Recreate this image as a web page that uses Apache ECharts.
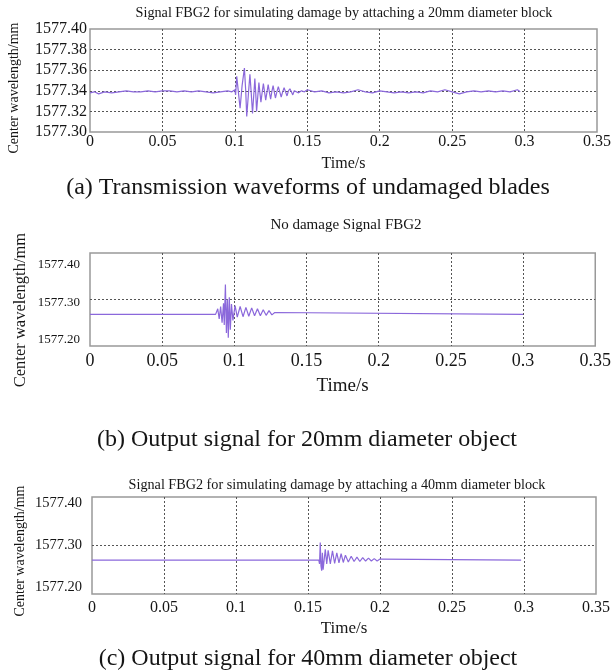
<!DOCTYPE html>
<html><head><meta charset="utf-8">
<script src="https://cdn.jsdelivr.net/npm/echarts@6/dist/echarts.min.js"></script>
<style>html,body{margin:0;padding:0;background:#fff}#c{width:614px;height:670px}</style>
</head><body><div id="c"></div>
<script>
const xTickLabels = ['0','0.05','0.1','0.15','0.2','0.25','0.3','0.35'];
const yTicksA = ['1577.30','1577.32','1577.34','1577.36','1577.38','1577.40'];
const yTicksBC = ['1577.20','1577.30','1577.40'];
const panelTitles = [
  'Signal FBG2 for simulating damage by attaching a 20mm diameter block',
  'No damage Signal FBG2',
  'Signal FBG2 for simulating damage by attaching a 40mm diameter block'
];
const captions = [
  '(a) Transmission waveforms of undamaged blades',
  '(b) Output signal for 20mm diameter object',
  '(c) Output signal for 40mm diameter object'
];
const yName = 'Center wavelength/mm';
const xName = 'Time/s';

// [time s, center wavelength mm]
const signalA = [
  [0,1577.338],[0.003,1577.339],[0.006,1577.337],[0.01,1577.339],[0.015,1577.338],
  [0.02,1577.339],[0.025,1577.340],[0.03,1577.339],[0.035,1577.339],[0.04,1577.340],
  [0.045,1577.339],[0.05,1577.340],[0.055,1577.340],[0.06,1577.339],[0.065,1577.340],
  [0.07,1577.339],[0.075,1577.340],[0.08,1577.339],[0.085,1577.338],[0.09,1577.339],
  [0.095,1577.340],[0.098,1577.339],[0.1,1577.341],[0.1005,1577.336],[0.1013,1577.354],
  [0.1025,1577.338],[0.1036,1577.323],[0.105,1577.345],[0.1066,1577.362],[0.1075,1577.340],
  [0.1082,1577.315],[0.1093,1577.336],[0.1104,1577.356],[0.1113,1577.338],[0.1122,1577.318],
  [0.113,1577.335],[0.1138,1577.352],[0.1144,1577.338],[0.115,1577.320],[0.1158,1577.334],
  [0.1166,1577.348],[0.1173,1577.338],[0.118,1577.329],[0.1188,1577.338],[0.1197,1577.347],
  [0.1205,1577.339],[0.1213,1577.331],[0.1222,1577.339],[0.123,1577.346],[0.1238,1577.339],
  [0.1247,1577.332],[0.1255,1577.339],[0.1264,1577.345],[0.1272,1577.339],[0.128,1577.333],
  [0.129,1577.339],[0.13,1577.344],[0.131,1577.339],[0.132,1577.334],[0.133,1577.339],
  [0.134,1577.343],[0.135,1577.339],[0.136,1577.335],[0.137,1577.340],[0.138,1577.342],
  [0.139,1577.339],[0.14,1577.336],[0.141,1577.340],[0.142,1577.341],[0.144,1577.338],
  [0.146,1577.340],[0.148,1577.339],[0.15,1577.341],[0.155,1577.339],[0.16,1577.340],
  [0.165,1577.338],[0.17,1577.339],[0.175,1577.338],[0.18,1577.339],[0.185,1577.341],
  [0.19,1577.339],[0.195,1577.338],[0.2,1577.340],[0.205,1577.339],[0.21,1577.338],
  [0.215,1577.339],[0.22,1577.338],[0.225,1577.339],[0.23,1577.338],[0.235,1577.340],
  [0.24,1577.339],[0.245,1577.341],[0.25,1577.339],[0.255,1577.337],[0.26,1577.339],
  [0.265,1577.340],[0.27,1577.339],[0.275,1577.340],[0.28,1577.339],[0.285,1577.340],
  [0.29,1577.339],[0.295,1577.341],[0.297,1577.339]
];
const signalB = [
  [0,1577.268],[0.087,1577.268],[0.0885,1577.280],[0.0895,1577.258],[0.0905,1577.285],
  [0.0915,1577.250],[0.0925,1577.292],[0.093,1577.245],[0.0938,1577.332],[0.0945,1577.228],
  [0.0952,1577.300],[0.0958,1577.218],[0.0965,1577.305],[0.0972,1577.235],[0.098,1577.290],
  [0.099,1577.255],[0.1005,1577.287],[0.102,1577.262],[0.104,1577.285],[0.106,1577.263],
  [0.108,1577.283],[0.110,1577.264],[0.112,1577.282],[0.114,1577.265],[0.116,1577.280],
  [0.118,1577.265],[0.120,1577.278],[0.122,1577.266],[0.124,1577.276],[0.126,1577.267],
  [0.128,1577.272],[0.129,1577.268],[0.3,1577.268]
];
const signalC = [
  [0,1577.270],[0.1575,1577.270],[0.158,1577.262],[0.1585,1577.306],[0.159,1577.258],
  [0.1595,1577.248],[0.160,1577.285],[0.1605,1577.250],[0.161,1577.247],[0.162,1577.292],
  [0.163,1577.262],[0.164,1577.290],[0.1655,1577.262],[0.167,1577.289],[0.1685,1577.263],
  [0.170,1577.285],[0.1715,1577.264],[0.173,1577.283],[0.1745,1577.265],[0.176,1577.280],
  [0.178,1577.266],[0.180,1577.278],[0.182,1577.267],[0.184,1577.276],[0.186,1577.267],
  [0.188,1577.275],[0.190,1577.268],[0.192,1577.274],[0.194,1577.268],[0.196,1577.273],
  [0.198,1577.268],[0.2,1577.272],[0.201,1577.270],[0.298,1577.270]
];

const FONT = '"Liberation Serif", "Times New Roman", serif';
const TXT = '#151515';
const LINE = '#8B68DB';

const chart = echarts.init(document.getElementById('c'), null, {renderer: 'canvas'});

const grids = [
  {left: 90, top: 29, width: 513, height: 103},
  {left: 90, top: 253, width: 509, height: 93},
  {left: 92, top: 497, width: 504, height: 97}
];
const split = {show: true, showMinLine: false, showMaxLine: false, lineStyle: {type: [2, 2], color: '#555', width: 1}};

function xAx(i, fs, margin, nameFs, gap) {
  return {
    type: 'value', gridIndex: i, min: 0, max: 0.35, interval: 0.05,
    axisLine: {show: false}, axisTick: {show: false},
    axisLabel: {fontFamily: FONT, fontSize: fs, color: TXT, margin: margin,
      formatter: (v, idx) => xTickLabels[idx]},
    splitLine: split,
    name: xName, nameLocation: 'middle', nameGap: gap,
    nameTextStyle: {fontFamily: FONT, fontSize: nameFs, color: TXT}
  };
}

const richB = {
  p0: {fontFamily: FONT, fontSize: 13, color: TXT, padding: [0, 0, 12, 0]},
  p1: {fontFamily: FONT, fontSize: 13, color: TXT, padding: [7, 0, 0, 0]},
  p2: {fontFamily: FONT, fontSize: 13, color: TXT, padding: [24, 0, 0, 0]}
};
const richC = {
  p0: {fontFamily: FONT, fontSize: 14.5, color: TXT, padding: [0, 0, 14, 0]},
  p1: {fontFamily: FONT, fontSize: 14.5, color: TXT, padding: [0, 0, 0, 0]},
  p2: {fontFamily: FONT, fontSize: 14.5, color: TXT, padding: [12, 0, 0, 0]}
};

function txt(s, x, y, size, rot) {
  const el = {type: 'text', x: x, y: y, style: {text: s, font: size + 'px ' + FONT, fill: TXT,
    align: 'center', verticalAlign: 'middle', textAlign: 'center', textVerticalAlign: 'middle'}};
  if (rot) el.rotation = Math.PI / 2;
  return el;
}

const option = {
  backgroundColor: '#fff',
  animation: false,
  grid: grids.map(g => Object.assign({show: true, borderColor: '#999', borderWidth: 1.5, backgroundColor: 'transparent'}, g)),
  xAxis: [
    xAx(0, 16, 2, 16, 24),
    xAx(1, 18, 6, 19, 31),
    xAx(2, 16, 6, 17, 26)
  ],
  yAxis: [
    {type: 'value', gridIndex: 0, min: 1577.30, max: 1577.40, interval: 0.02,
      axisLine: {show: false}, axisTick: {show: false}, splitLine: split,
      axisLabel: {fontFamily: FONT, fontSize: 16, color: TXT, margin: 3,
        formatter: (v, idx) => yTicksA[idx]}},
    {type: 'value', gridIndex: 1, min: 1577.20, max: 1577.40, interval: 0.1,
      axisLine: {show: false}, axisTick: {show: false}, splitLine: split,
      axisLabel: {fontFamily: FONT, fontSize: 13, color: TXT, margin: 10, rich: richB,
        formatter: (v, idx) => '{p' + idx + '|' + yTicksBC[idx] + '}'}},
    {type: 'value', gridIndex: 2, min: 1577.20, max: 1577.40, interval: 0.1,
      axisLine: {show: false}, axisTick: {show: false}, splitLine: split,
      axisLabel: {fontFamily: FONT, fontSize: 14.5, color: TXT, margin: 10, rich: richC,
        formatter: (v, idx) => '{p' + idx + '|' + yTicksBC[idx] + '}'}}
  ],
  series: [signalA, signalB, signalC].map((d, i) => ({
    type: 'line', xAxisIndex: i, yAxisIndex: i, data: d, showSymbol: false,
    lineStyle: {color: LINE, width: 1.2}, clip: true
  })),
  graphic: [
    txt(panelTitles[0], 344, 13, 14.2),
    txt(panelTitles[1], 346, 225, 15),
    txt(panelTitles[2], 337, 485, 14.2),
    txt(captions[0], 308, 188, 24),
    txt(captions[1], 307, 440, 24),
    txt(captions[2], 308, 659, 24),
    txt(yName, 14, 88, 14, true),
    txt(yName, 21, 310, 16.5, true),
    txt(yName, 20, 551, 14, true)
  ]
};
chart.setOption(option);
</script>
</body></html>
